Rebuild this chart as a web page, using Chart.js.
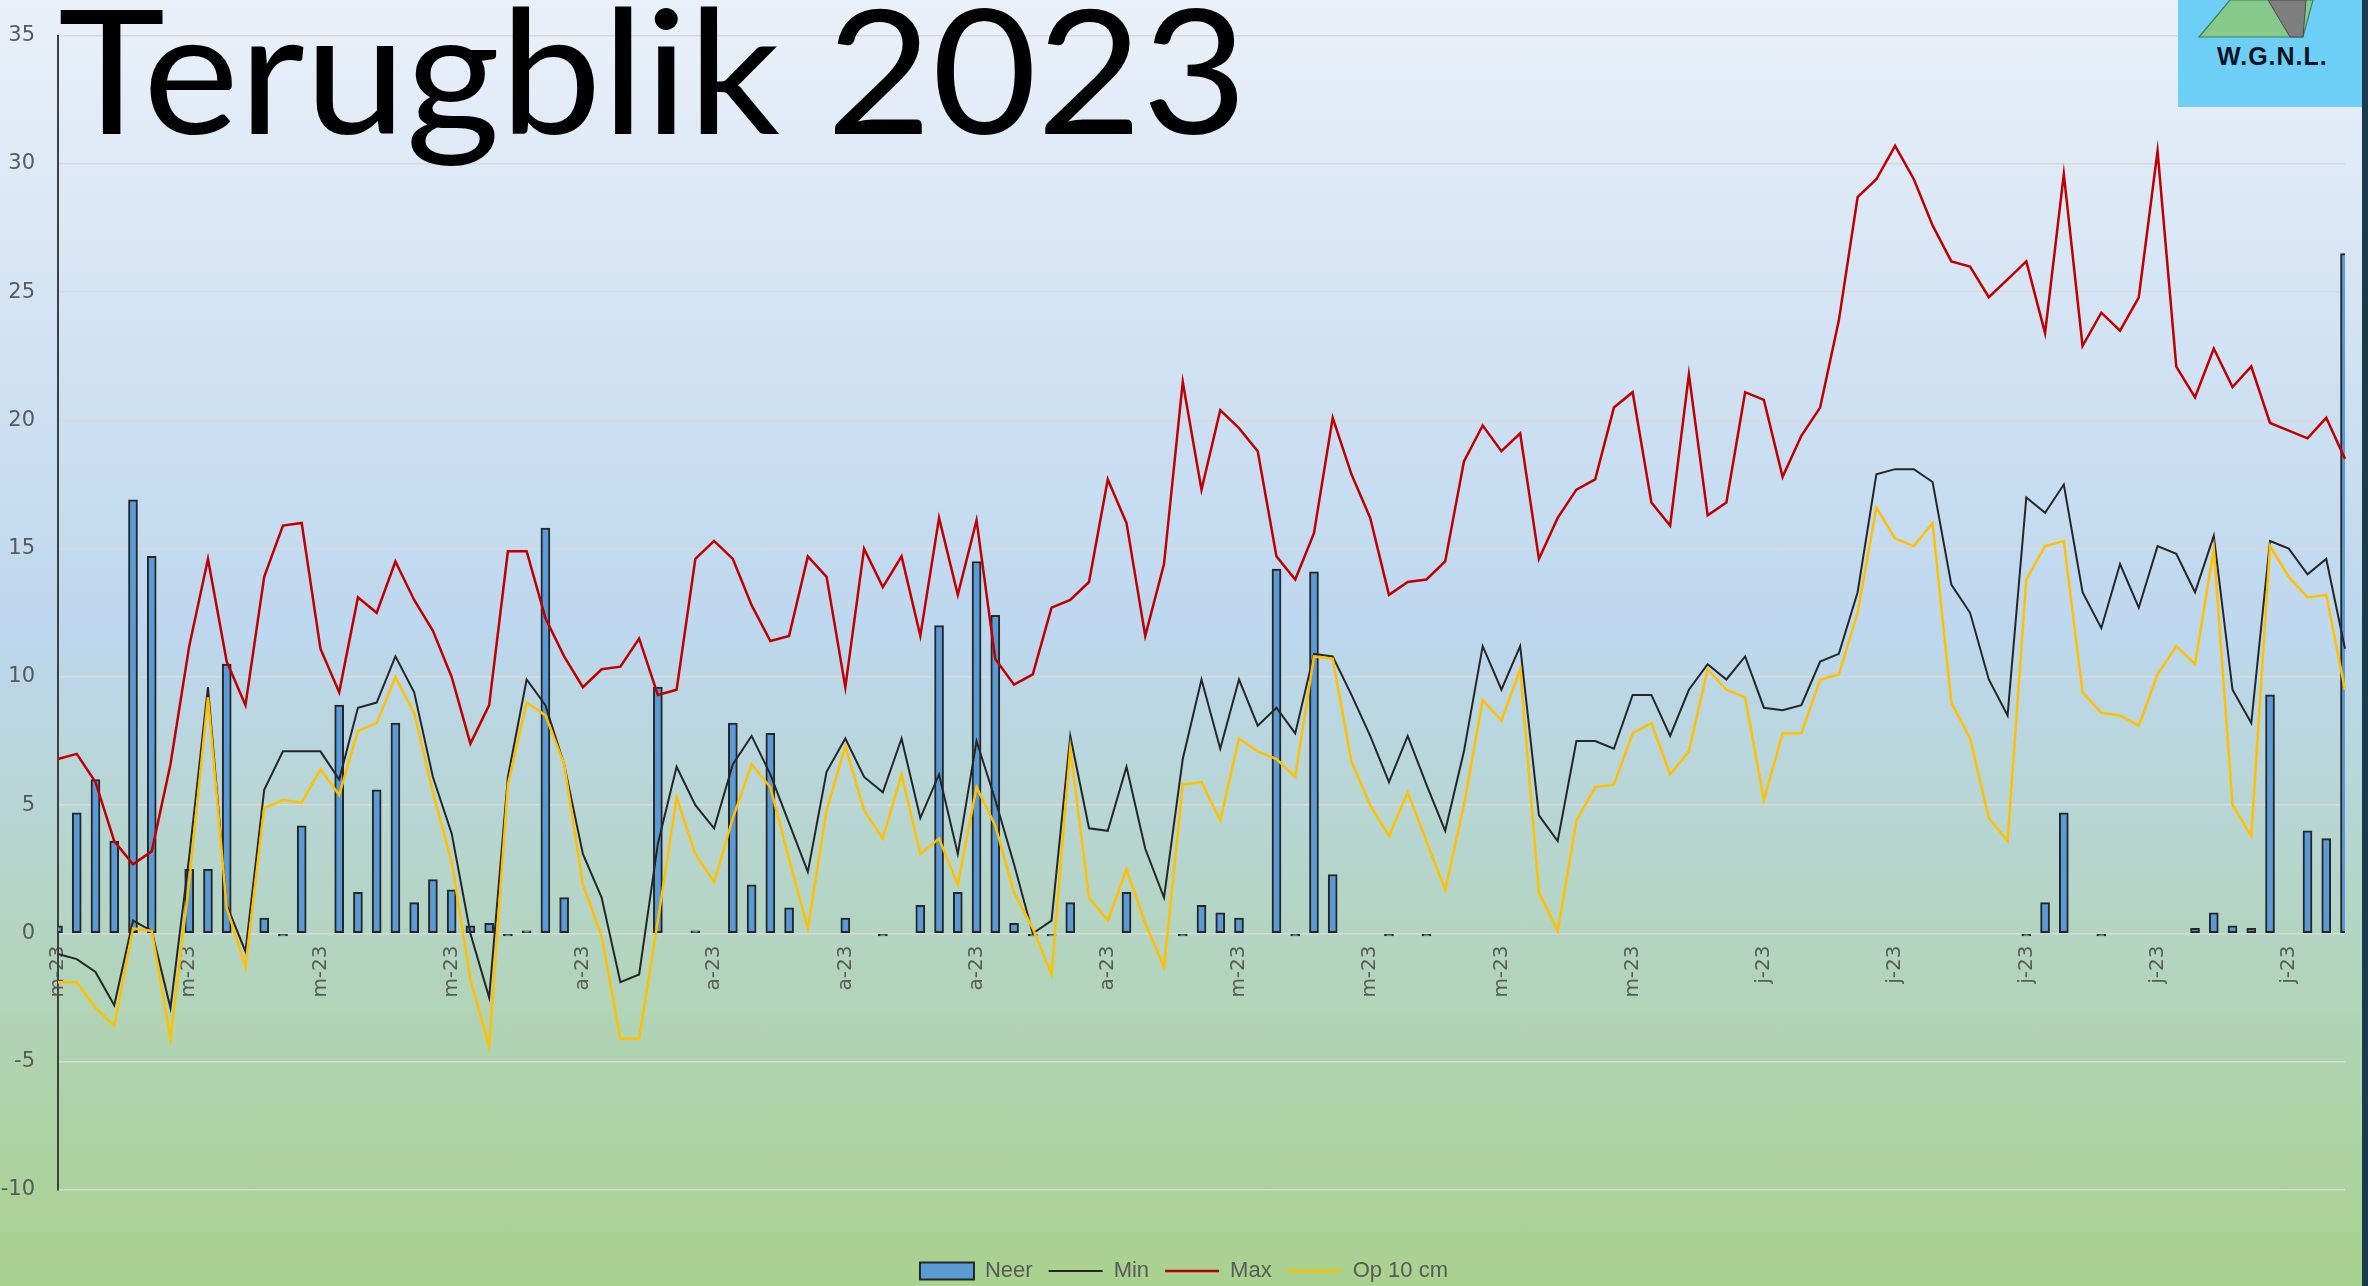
<!DOCTYPE html>
<html>
<head>
<meta charset="utf-8">
<title>Terugblik 2023</title>
<script src="https://cdn.jsdelivr.net/npm/chart.js@4.4.1/dist/chart.umd.min.js"></script>
<style>
  html, body { margin: 0; padding: 0; overflow: hidden; }
  body {
    width: 2368px; height: 1286px; position: relative;
    background: linear-gradient(to bottom, #eaf0f9 0%, #bdd7ee 49%, #a9d18e 100%);
  }
  #chart { position: absolute; left: 0; top: 0; }
  #title {
    position: absolute; left: 57px; top: -16px;
    font: 175px/1 Lato, sans-serif; color: #000; white-space: nowrap;
    transform-origin: 0 0;
  }
  #logo { position: absolute; left: 2178px; top: 0; }
  #edge { position: absolute; left: 2362px; top: 0; width: 6px; height: 1286px; background: #1b3a4b; }
</style>
</head>
<body>
<canvas id="chart" width="2368" height="1286"></canvas>
<div id="title">Terugblik 2023</div>
<svg id="logo" width="184" height="107" viewBox="0 0 184 107">
  <rect x="0" y="0" width="184" height="107" fill="#6dcff6"/>
  <polygon points="21,37 125,37 135,0 52,0" fill="#86c98a" stroke="#3f7f5f" stroke-width="1.2"/>
  <polygon points="90,0 128,0 125,37 112,37" fill="#7f7f7f" stroke="#4a4a4a" stroke-width="1"/>
  <text x="39" y="65" font-family="Liberation Sans, Arial, sans-serif" font-weight="bold" font-size="25" letter-spacing="1" fill="#111122">W.G.N.L.</text>
</svg>
<div id="edge"></div>
<script>
// dagwaarden vanaf 5 maart 2023
const neer = [
  0.3, 4.7, 6.0, 3.6, 16.9, 14.7, 0, 2.5, 2.5, 10.5,
  0, 0.6, -0.1, 4.2, 0, 8.9, 1.6, 5.6, 8.2, 1.2,
  2.1, 1.7, 0.3, 0.4, -0.1, 0.1, 15.8, 1.4, 0, 0,
  0, 0, 9.6, 0, 0.1, 0, 8.2, 1.9, 7.8, 1.0,
  0, 0, 0.6, 0, -0.1, 0, 1.1, 12.0, 1.6, 14.5,
  12.4, 0.4, -0.1, -0.1, 1.2, 0, 0, 1.6, 0, 0,
  -0.1, 1.1, 0.8, 0.6, 0, 14.2, -0.1, 14.1, 2.3, 0,
  0, -0.1, 0, -0.1, 0, 0, 0, 0, 0, 0,
  0, 0, 0, 0, 0, 0, 0, 0, 0, 0,
  0, 0, 0, 0, 0, 0, 0, 0, 0, 0,
  0, 0, 0, 0, 0, -0.1, 1.2, 4.7, 0, -0.1,
  0, 0, 0, 0, 0.2, 0.8, 0.3, 0.2, 9.3, 0,
  4.0, 3.7, 26.5
];
const tMin = [
  -0.8, -1.0, -1.5, -2.8, 0.5, 0.1, -2.9, 3.0, 9.6, 1.1,
  -0.7, 5.6, 7.1, 7.1, 7.1, 6.0, 8.8, 9.0, 10.8, 9.4,
  6.1, 3.9, 0.0, -2.5, 6.1, 9.9, 8.9, 6.6, 3.1, 1.4,
  -1.9, -1.6, 3.5, 6.5, 5.0, 4.1, 6.6, 7.7, 6.2, 4.3,
  2.4, 6.3, 7.6, 6.1, 5.5, 7.6, 4.5, 6.2, 3.1, 7.5,
  5.2, 2.7, 0.0, 0.5, 7.7, 4.1, 4.0, 6.5, 3.3, 1.4,
  6.8, 9.9, 7.2, 9.9, 8.1, 8.8, 7.8, 10.9, 10.8, 9.3,
  7.7, 5.9, 7.7, 5.8, 4.0, 7.1, 11.2, 9.5, 11.2, 4.6,
  3.6, 7.5, 7.5, 7.2, 9.3, 9.3, 7.7, 9.5, 10.5, 9.9,
  10.8, 8.8, 8.7, 8.9, 10.6, 10.9, 13.3, 17.9, 18.1, 18.1,
  17.6, 13.6, 12.5, 9.9, 8.5, 17.0, 16.4, 17.5, 13.3, 11.9,
  14.4, 12.7, 15.1, 14.8, 13.3, 15.5, 9.5, 8.2, 15.3, 15.0,
  14.0, 14.6, 11.1
];
const tMax = [
  6.8, 7.0, 5.9, 3.6, 2.7, 3.2, 6.6, 11.2, 14.6, 10.6,
  8.9, 13.9, 15.9, 16.0, 11.1, 9.4, 13.1, 12.5, 14.5, 13.0,
  11.8, 10.0, 7.4, 8.9, 14.9, 14.9, 12.3, 10.8, 9.6, 10.3,
  10.4, 11.5, 9.3, 9.5, 14.6, 15.3, 14.6, 12.8, 11.4, 11.6,
  14.7, 13.9, 9.6, 15.0, 13.5, 14.7, 11.6, 16.2, 13.2, 16.1,
  10.7, 9.7, 10.1, 12.7, 13.0, 13.7, 17.7, 16.0, 11.6, 14.4,
  21.5, 17.3, 20.4, 19.7, 18.8, 14.7, 13.8, 15.6, 20.1, 17.9,
  16.2, 13.2, 13.7, 13.8, 14.5, 18.4, 19.8, 18.8, 19.5, 14.6,
  16.2, 17.3, 17.7, 20.5, 21.1, 16.8, 15.9, 21.8, 16.3, 16.8,
  21.1, 20.8, 17.8, 19.4, 20.5, 23.9, 28.7, 29.4, 30.7, 29.4,
  27.6, 26.2, 26.0, 24.8, 25.5, 26.2, 23.4, 29.6, 22.9, 24.2,
  23.5, 24.8, 30.5, 22.1, 20.9, 22.8, 21.3, 22.1, 19.9, 19.6,
  19.3, 20.1, 18.5
];
const op10 = [
  -1.9, -1.9, -2.9, -3.6, 0.2, 0.1, -4.1, 2.0, 9.2, 1.0,
  -1.3, 4.9, 5.2, 5.1, 6.4, 5.4, 7.9, 8.2, 10.0, 8.6,
  5.5, 2.8, -1.8, -4.4, 5.8, 9.0, 8.5, 6.6, 1.9, -0.1,
  -4.1, -4.1, 0.5, 5.3, 3.1, 2.0, 4.5, 6.6, 5.7, 2.9,
  0.2, 4.8, 7.3, 4.8, 3.7, 6.2, 3.1, 3.7, 1.9, 5.7,
  4.2, 1.6, 0.2, -1.6, 7.2, 1.4, 0.5, 2.5, 0.4, -1.3,
  5.8, 5.9, 4.4, 7.6, 7.1, 6.8, 6.1, 10.8, 10.7, 6.7,
  5.0, 3.8, 5.5, 3.6, 1.7, 5.0, 9.1, 8.3, 10.3, 1.6,
  0.1, 4.4, 5.7, 5.8, 7.8, 8.2, 6.2, 7.1, 10.3, 9.5,
  9.2, 5.2, 7.8, 7.8, 9.9, 10.1, 12.5, 16.6, 15.4, 15.1,
  16.0, 9.0, 7.6, 4.5, 3.6, 13.8, 15.1, 15.3, 9.4, 8.6,
  8.5, 8.1, 10.1, 11.2, 10.5, 15.0, 5.0, 3.8, 15.1, 13.9,
  13.1, 13.2, 9.5
];
// één label per week
const tickLabels = [
  'm-23', 'm-23', 'm-23', 'm-23',
  'a-23', 'a-23', 'a-23', 'a-23', 'a-23',
  'm-23', 'm-23', 'm-23', 'm-23',
  'j-23', 'j-23', 'j-23', 'j-23', 'j-23'
];
const tickEvery = 7;

const days = [];
for (let i = 0; i < neer.length; i++) {
  const d = new Date(2023, 2, 5 + i);
  days.push(d.getDate() + '-' + (d.getMonth() + 1) + '-2023');
}

const gray = '#595959';

// titel passend maken: hoofdletterhoogte, basislijn en breedte
function fitTitle() {
  const el = document.getElementById('title');
  const ctx = document.createElement('canvas').getContext('2d');
  ctx.font = '200px Lato';
  const capH = ctx.measureText('T').actualBoundingBoxAscent;
  const size = 200 * 125 / capH;
  ctx.font = size + 'px Lato';
  const m = ctx.measureText(el.textContent);
  const glyphW = m.actualBoundingBoxLeft + m.actualBoundingBoxRight;
  const sx = 1177 / glyphW;
  const asc = m.fontBoundingBoxAscent, desc = m.fontBoundingBoxDescent;
  const baseFromTop = (size - (asc + desc)) / 2 + asc;
  el.style.fontSize = size + 'px';
  el.style.top = (135 - baseFromTop) + 'px';
  el.style.left = (60 - m.actualBoundingBoxLeft * -sx) + 'px';
  el.style.transform = 'scaleX(' + sx + ')';
}
fitTitle();

// legenda onderaan de pagina, gecentreerd
const legendMove = {
  id: 'legendMove',
  afterLayout(chart) {
    const lg = chart.legend;
    const dx = 1184 - (lg.left + lg.right) / 2;
    lg.left += dx;
    lg.right += dx;
    lg.top += 54;
    lg.bottom += 54;
  }
};

new Chart(document.getElementById('chart'), {
  type: 'bar',
  data: {
    labels: days,
    datasets: [
      {
        type: 'bar',
        label: 'Neer',
        data: neer,
        backgroundColor: '#5b9bd5',
        borderColor: '#262626',
        borderWidth: 2,
        borderSkipped: false,
        barThickness: 9,
        order: 4
      },
      {
        type: 'line',
        label: 'Min',
        data: tMin,
        borderColor: '#262626',
        backgroundColor: '#262626',
        borderWidth: 2,
        pointRadius: 0,
        tension: 0,
        order: 3
      },
      {
        type: 'line',
        label: 'Max',
        data: tMax,
        borderColor: '#c00000',
        backgroundColor: '#c00000',
        borderWidth: 2.5,
        pointRadius: 0,
        tension: 0,
        order: 2
      },
      {
        type: 'line',
        label: 'Op 10 cm',
        data: op10,
        borderColor: '#ffc000',
        backgroundColor: '#ffc000',
        borderWidth: 2.5,
        pointRadius: 0,
        tension: 0,
        order: 1
      }
    ]
  },
  options: {
    responsive: false,
    devicePixelRatio: 1,
    animation: false,
    layout: { padding: { top: 15, right: 23, bottom: 48, left: 0 } },
    scales: {
      x: {
        type: 'category',
        position: { y: 0 },
        offset: false,
        grid: { display: false },
        border: { display: false },
        ticks: {
          autoSkip: false,
          minRotation: 90,
          maxRotation: 90,
          padding: 4,
          color: gray,
          font: { family: 'DejaVu Sans, sans-serif', size: 20 },
          callback: (value, index) => index % tickEvery === 0 ? tickLabels[index / tickEvery] : ''
        },
        afterFit: scale => { scale.paddingLeft = 0; scale.paddingRight = 0; }
      },
      y: {
        min: -10,
        max: 35,
        ticks: {
          stepSize: 5,
          padding: 23,
          color: gray,
          font: { family: 'DejaVu Sans, sans-serif', size: 21 }
        },
        grid: { color: '#d9d9d9', lineWidth: 1.5, drawTicks: false },
        border: { display: true, color: '#404040', width: 2 },
        afterFit: scale => { scale.width = 58; }
      }
    },
    plugins: {
      tooltip: { enabled: false },
      legend: {
        position: 'bottom',
        labels: {
          usePointStyle: true,
          pointStyleWidth: 54,
          boxHeight: 17,
          padding: 16,
          color: gray,
          font: { family: 'Liberation Sans, Arial, sans-serif', size: 22 },
          sort: (a, b) => a.datasetIndex - b.datasetIndex,
          generateLabels: chart => Chart.defaults.plugins.legend.labels.generateLabels(chart)
            .map(item => Object.assign(item, { pointStyle: item.datasetIndex === 0 ? 'rect' : 'line' }))
        }
      }
    }
  },
  plugins: [legendMove]
});
</script>
</body>
</html>
